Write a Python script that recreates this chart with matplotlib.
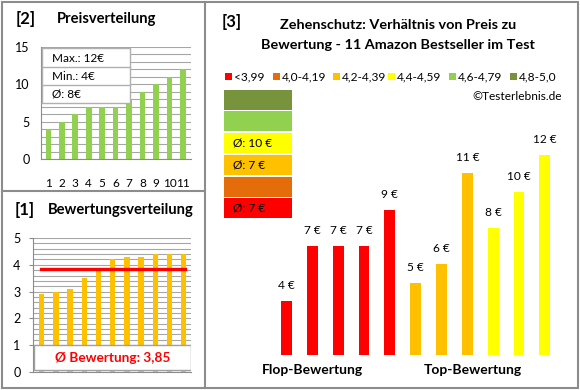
import matplotlib
matplotlib.use("Agg")
import matplotlib.pyplot as plt
from matplotlib.patches import Rectangle

plt.rcParams['font.family'] = ['Lato', 'DejaVu Sans']

# data
price_ids = ['1', '2', '3', '4', '5', '6', '7', '8', '9', '10', '11']
prices_sorted = [4, 5, 6, 7, 7, 7, 8, 9, 10, 11, 12]
price_max, price_min, price_avg = 12, 4, 8

ratings_sorted = [2.9, 3.0, 3.1, 3.5, 3.8, 4.2, 4.3, 4.3, 4.4, 4.4, 4.4]
rating_avg = 3.85

test_prices = [4, 7, 7, 7, 9, 5, 6, 11, 8, 10, 12]
test_groups = [0, 0, 0, 0, 0, 2, 2, 2, 3, 3, 3]

group_labels = ['<3,99', '4,0-4,19', '4,2-4,39', '4,4-4,59', '4,6-4,79', '4,8-5,0']
group_colors = ['#FF0000', '#E46C0A', '#FFC000', '#FFFF00', '#92D050', '#77933C']
group_avg_text = ['Ø: 7 €', '', 'Ø: 7 €', 'Ø: 10 €', '', '']

W, H = 580, 390
fig = plt.figure(figsize=(W / 100, H / 100), dpi=100)


def fx(x):
    return x / W


def fy(y):
    return 1 - y / H


def box(x0, y0, x1, y1, **kw):
    fig.patches.append(Rectangle((fx(x0), fy(y1)), fx(x1) - fx(x0), fy(y0) - fy(y1),
                                 transform=fig.transFigure, **kw))


gray = '#8c8c8c'
# frames
box(2, 2, 578, 388, fill=False, edgecolor=gray, lw=1.5)
fig.add_artist(plt.Line2D([fx(205), fx(205)], [fy(2), fy(388)], color=gray, lw=1.5))
fig.add_artist(plt.Line2D([fx(2), fx(205)], [fy(191), fy(191)], color=gray, lw=1.5))

# ---- [2] Preisverteilung ----
fig.text(fx(16), fy(19), '[2]', fontsize=12, fontweight='bold', va='center')
fig.text(fx(57), fy(19), 'Preisverteilung', fontsize=10.6, fontweight='bold', va='center')
ax1 = fig.add_axes([fx(41), fy(159), fx(191) - fx(41), fy(47) - fy(159)])
x1 = range(1, len(prices_sorted) + 1)
ax1.bar(x1, prices_sorted, width=0.42, color='#92D050', zorder=2)
ax1.set_xlim(0.45, 11.6)
ax1.set_ylim(0, 15)
ax1.set_yticks([0, 5, 10, 15])
ax1.set_yticks(range(16), minor=True)
ax1.set_xticks(list(x1))
ax1.set_xticklabels(price_ids)
ax1.grid(axis='y', which='both', color='#a6a6a6', lw=0.8, zorder=0)
for s in ['top', 'right']:
    ax1.spines[s].set_visible(False)
ax1.spines['left'].set_color(gray)
ax1.spines['bottom'].set_color(gray)
ax1.tick_params(axis='x', length=0, pad=14, labelsize=8.5)
ax1.tick_params(axis='y', which='major', length=0, pad=8, labelsize=9)
ax1.tick_params(axis='y', which='minor', length=0)

box(42, 48, 130, 103, facecolor='white', edgecolor='#b0b0b0', lw=1, zorder=5)
for yl in [67, 85]:
    fig.add_artist(plt.Line2D([fx(42), fx(130)], [fy(yl), fy(yl)], color='#b0b0b0', lw=1, zorder=6))
for yc, t in zip([58, 76, 94], ['Max.: %d€' % price_max, 'Min.: %d€' % price_min, 'Ø: %d€' % price_avg]):
    fig.text(fx(52), fy(yc), t, fontsize=8.5, va='center', zorder=7)

# ---- [1] Bewertungsverteilung ----
fig.text(fx(15), fy(210), '[1]', fontsize=12, fontweight='bold', va='center')
fig.text(fx(48), fy(210), 'Bewertungsverteilung', fontsize=10.6, fontweight='bold', va='center')
ax2 = fig.add_axes([fx(33), fy(372), fx(191) - fx(33), fy(238) - fy(372)])
x2 = range(1, len(ratings_sorted) + 1)
ax2.bar(x2, ratings_sorted, width=0.38, color='#FFC000', zorder=2)
ax2.plot([0.95, 11.1], [rating_avg, rating_avg], color='#FF0000', lw=2.4, zorder=3)
ax2.set_xlim(0.38, 11.52)
ax2.set_ylim(0, 5)
ax2.set_yticks(range(6))
ax2.set_yticks([i * 0.2 for i in range(26)], minor=True)
ax2.set_xticks([])
ax2.grid(axis='y', which='both', color='#a6a6a6', lw=0.8, zorder=0)
for s in ['top', 'right']:
    ax2.spines[s].set_visible(False)
ax2.spines['left'].set_color(gray)
ax2.spines['bottom'].set_color(gray)
ax2.tick_params(axis='y', which='major', length=3, color=gray, pad=6, labelsize=9)
ax2.tick_params(axis='y', which='minor', length=0)
ax2.add_patch(Rectangle((0.45, 0.07), 11.07, 0.93, facecolor='white', edgecolor='#a0a0a0',
                        lw=1, zorder=4))
ax2.text(6, 0.52, 'Ø Bewertung: 3,85', color='#FF0000', fontsize=9.8, fontweight='bold',
         ha='center', va='center', zorder=5)

# ---- [3] Preis zu Bewertung ----
fig.text(fx(222), fy(22), '[3]', fontsize=12, fontweight='bold', va='center')
fig.text(fx(398), fy(25), 'Zehenschutz: Verhältnis von Preis zu', fontsize=10.4,
         fontweight='bold', ha='center', va='center')
fig.text(fx(398), fy(45), 'Bewertung - 11 Amazon Bestseller im Test', fontsize=10.4,
         fontweight='bold', ha='center', va='center')

leg_x = [225, 273, 333, 388, 449, 510]
for xl, lab, c in zip(leg_x, group_labels, group_colors):
    box(xl, 73, xl + 7, 80, facecolor=c, edgecolor='none')
    fig.text(fx(xl + 9), fy(77), lab, fontsize=8.6, va='center')
fig.text(fx(562), fy(97), '©Testerlebnis.de', fontsize=8.6, ha='right', va='center')

row_tops = [90, 111, 133, 155, 177, 198]
for i, yt in enumerate(row_tops):
    gi = len(group_colors) - 1 - i
    box(224, yt, 292, yt + 20, facecolor=group_colors[gi], edgecolor='none')
    if group_avg_text[gi]:
        fig.text(fx(233), fy(yt + 10), group_avg_text[gi], fontsize=8.6, va='center')

ax3 = fig.add_axes([fx(268.4), fy(355), fx(563) - fx(268.4), fy(137) - fy(355)])
x3 = range(len(test_prices))
ax3.bar(x3, test_prices, width=0.42, bottom=0,
        color=[group_colors[g] for g in test_groups])
for xi, p in zip(x3, test_prices):
    ax3.text(xi, p + 0.55, '%d €' % p, fontsize=8.6, ha='center', va='bottom')
ax3.set_xlim(-0.7, 10.7)
ax3.set_ylim(1.02, 13)
ax3.axis('off')

fig.text(fx(312), fy(370), 'Flop-Bewertung', fontsize=10, fontweight='bold', ha='center', va='center')
fig.text(fx(473), fy(370), 'Top-Bewertung', fontsize=10, fontweight='bold', ha='center', va='center')

fig.savefig('out.png', dpi=100)
